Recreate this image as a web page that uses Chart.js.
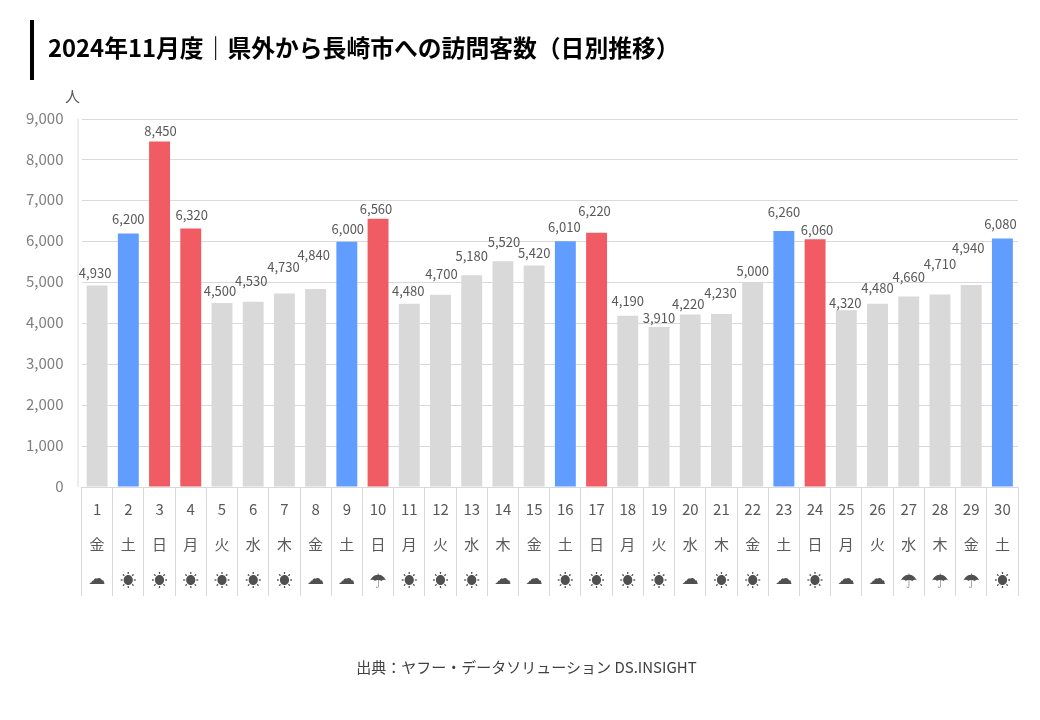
<!DOCTYPE html>
<html lang="ja">
<head>
<meta charset="utf-8">
<title>2024年11月度 県外から長崎市への訪問客数</title>
<script src="https://cdn.jsdelivr.net/npm/chart.js@4"></script>
<style>
  html, body { margin: 0; padding: 0; background: #fff; }
  #wrap { position: relative; width: 1040px; height: 720px; overflow: hidden; font-family: "Noto Sans CJK JP", sans-serif; }
  #myChart { position: absolute; left: 0; top: 0; }
  #titleBar { position: absolute; left: 30px; top: 20px; width: 4px; height: 60px; background: #000; }
  #title { position: absolute; left: 48px; top: 29px; font-size: 23.8px; line-height: 36px; font-weight: 700; color: #000; white-space: nowrap; }
  #unit { position: absolute; left: 65px; top: 86px; font-size: 15px; line-height: 20px; color: #595959; }
  #source { position: absolute; left: 0; width: 1053px; top: 657px; text-align: center; font-size: 15px; line-height: 20px; color: #404040; }
</style>
</head>
<body>
<div id="wrap">
  <canvas id="myChart" width="1040" height="720"></canvas>
  <div id="titleBar"></div>
  <div id="title">2024年11月度｜県外から長崎市への訪問客数（日別推移）</div>
  <div id="unit">人</div>
  <div id="source">出典：ヤフー・データソリューション DS.INSIGHT</div>
</div>
<script>
const days = ['1','2','3','4','5','6','7','8','9','10','11','12','13','14','15','16','17','18','19','20','21','22','23','24','25','26','27','28','29','30'];
const weekdays = ['金','土','日','月','火','水','木','金','土','日','月','火','水','木','金','土','日','月','火','水','木','金','土','日','月','火','水','木','金','土'];
const weather = ['☁','☀','☀','☀','☀','☀','☀','☁','☁','☂','☀','☀','☀','☁','☁','☀','☀','☀','☀','☁','☀','☀','☁','☀','☁','☁','☂','☂','☂','☀'];
const visitors = [4930,6200,8450,6320,4500,4530,4730,4840,6000,6560,4480,4700,5180,5520,5420,6010,6220,4190,3910,4220,4230,5000,6260,6060,4320,4480,4660,4710,4940,6080];
const yTicks = [0,1000,2000,3000,4000,5000,6000,7000,8000,9000];

const GRAY = '#D9D9D9', BLUE = '#619CFF', RED = '#F15B64';
const barColors = [GRAY,BLUE,RED,RED,GRAY,GRAY,GRAY,GRAY,BLUE,RED,GRAY,GRAY,GRAY,GRAY,GRAY,BLUE,RED,GRAY,GRAY,GRAY,GRAY,GRAY,BLUE,RED,GRAY,GRAY,GRAY,GRAY,GRAY,BLUE];

// how far each value label sits above its bar / off its centre (hand placed in the original)
const labelLift = [12,14,10,14,12,21,27,34,13,10,13,21,19,19,12,14,22,15,9,10,21,11,19,9,7,16,19,30,37,14];
const labelShift = [-2,0,1,1,-2,-2,-1,-2,1,-2,-1,1,0,1,0,-1,-2,0,0,-2,-1,0,0,2,-1,0,0,0,-3,-2];

const FONT = '"Noto Sans CJK JP", sans-serif';

// sun comes from the CJK font, the filled cloud and umbrella from DejaVu
const weatherFont = {
    '☀': { font: '16px "Noto Sans CJK JP", sans-serif', dy: 93 },
    '☁': { font: '17px "DejaVu Sans", sans-serif', dy: 93 },
    '☂': { font: '20px "DejaVu Sans", sans-serif', dy: 96 }
};

// value labels, weather glyphs + the detached y axis line
const extras = {
    id: 'extras',
    afterDatasetsDraw(chart) {
        const ctx = chart.ctx;
        const area = chart.chartArea;
        ctx.save();
        ctx.strokeStyle = GRAY;
        ctx.lineWidth = 1;
        ctx.beginPath();
        ctx.moveTo(area.left - 3.5, area.top);
        ctx.lineTo(area.left - 3.5, area.bottom);
        ctx.stroke();

        ctx.textAlign = 'center';
        ctx.textBaseline = 'middle';
        ctx.font = '13px ' + FONT;
        ctx.fillStyle = '#595959';
        chart.getDatasetMeta(0).data.forEach((bar, i) => {
            ctx.fillText(visitors[i].toLocaleString('en-US'), bar.x + labelShift[i], bar.y - labelLift[i]);
        });

        ctx.fillStyle = '#505050';
        weather.forEach((w, i) => {
            ctx.font = weatherFont[w].font;
            ctx.fillText(w, chart.scales.x.getPixelForTick(i), area.bottom + weatherFont[w].dy);
        });
        ctx.restore();
    }
};

const config = {
    type: 'bar',
    data: {
        labels: days.map((d, i) => [d, weekdays[i]]),
        datasets: [{
            data: visitors,
            backgroundColor: barColors,
            barPercentage: 0.67,
            categoryPercentage: 1
        }]
    },
    options: {
        responsive: false,
        animation: false,
        layout: { padding: { left: 5.5, right: 22, top: 119, bottom: 124 } },
        plugins: {
            legend: { display: false },
            tooltip: { enabled: false }
        },
        scales: {
            x: {
                afterFit(scale) { scale.height = 109; },
                border: { display: true, color: GRAY },
                grid: { drawOnChartArea: false, drawTicks: true, tickLength: 109, tickColor: GRAY, color: GRAY },
                ticks: {
                    autoSkip: false,
                    maxRotation: 0,
                    padding: -104.5,
                    color: '#595959',
                    font: { family: FONT, size: 15, lineHeight: '35px' }
                }
            },
            y: {
                min: 0,
                max: 9000,
                afterFit(scale) { scale.width = 76; },
                afterBuildTicks(scale) { scale.ticks = yTicks.map(v => ({ value: v })); },
                border: { display: false },
                grid: { color: GRAY, drawTicks: false },
                ticks: {
                    padding: 18,
                    labelOffset: -1,
                    color: '#7F7F7F',
                    font: { family: FONT, size: 15 },
                    callback: v => v.toLocaleString('en-US')
                }
            }
        }
    },
    plugins: [extras]
};

new Chart(document.getElementById('myChart').getContext('2d'), config);
</script>
</body>
</html>
